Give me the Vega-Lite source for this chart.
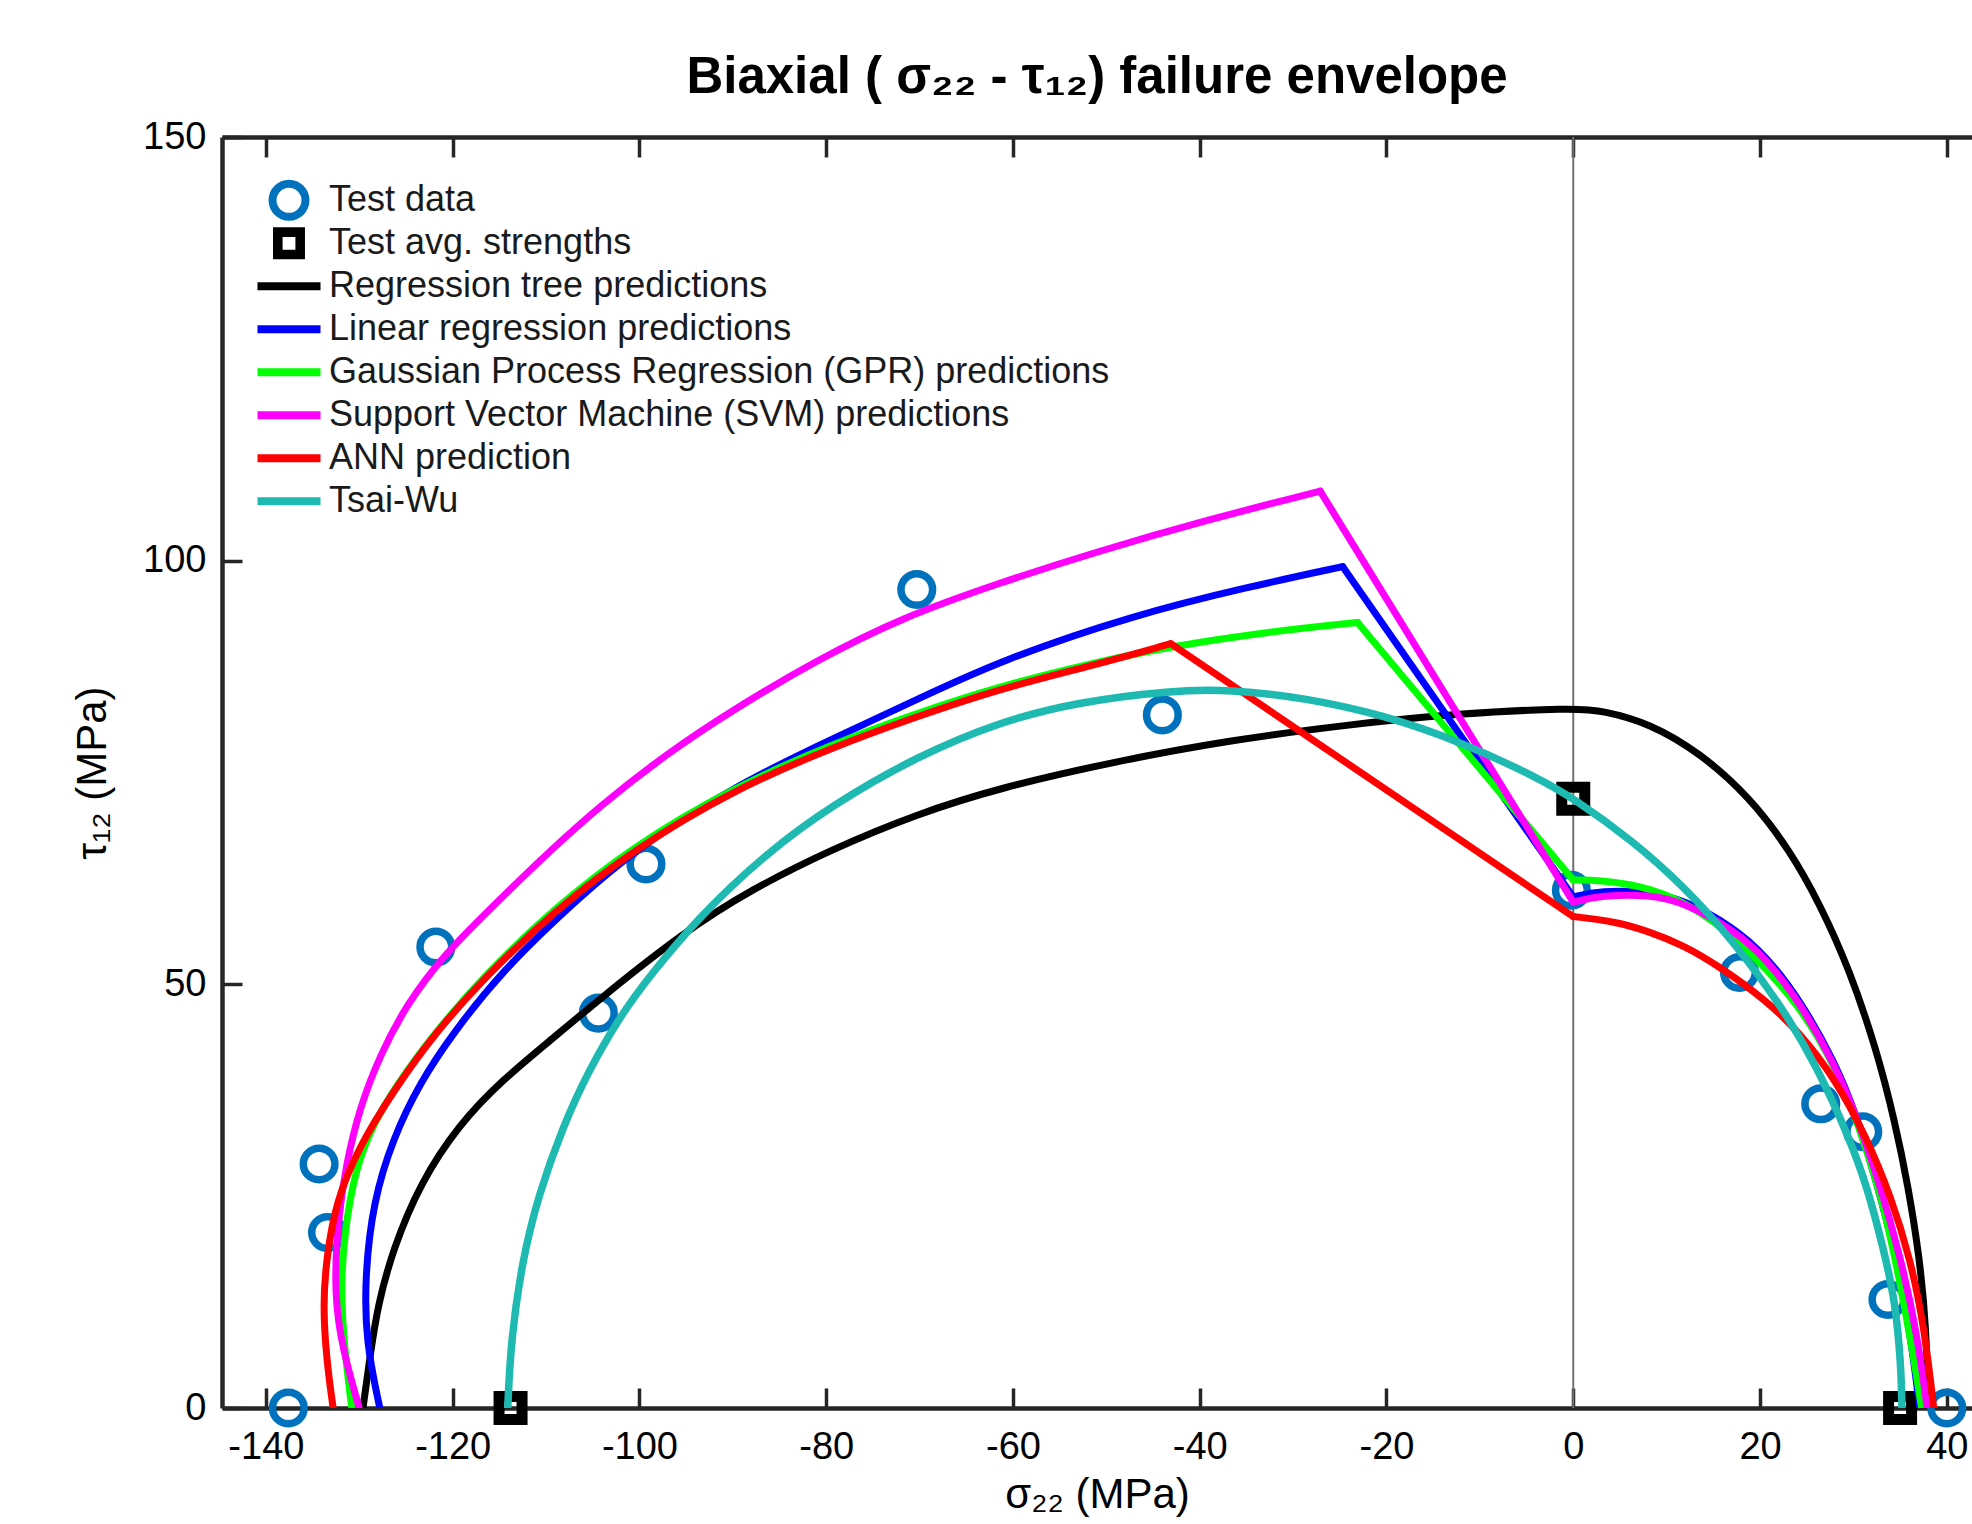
{
  "$schema": "https://vega.github.io/schema/vega-lite/v6.json",
  "width": 1750,
  "height": 1271,
  "autosize": {"type": "none"},
  "padding": {"left": 222, "top": 137, "right": 0, "bottom": 116},
  "background": "white",
  "config": {"view": {"stroke": null}, "font": "Liberation Sans"},
  "title": {
    "text": "Biaxial ( σ₂₂ - τ₁₂) failure envelope",
    "fontSize": 51, "fontWeight": "bold", "font": "Liberation Sans", "color": "#000000",
    "anchor": "middle", "baseline": "alphabetic", "offset": -26
  },
  "datasets": {
    "p": [
      {"s": "Test data", "x": -137.6, "y": 0},
      {"s": "Test data", "x": -134.3, "y": 28.8},
      {"s": "Test data", "x": -133.4, "y": 20.7},
      {"s": "Test data", "x": -121.8, "y": 54.4},
      {"s": "Test data", "x": -104.4, "y": 46.6},
      {"s": "Test data", "x": -99.3, "y": 64.2},
      {"s": "Test data", "x": -70.3, "y": 96.6},
      {"s": "Test data", "x": -44.0, "y": 81.8},
      {"s": "Test data", "x": -0.2, "y": 61.1},
      {"s": "Test data", "x": 17.8, "y": 51.4},
      {"s": "Test data", "x": 26.5, "y": 35.9},
      {"s": "Test data", "x": 31.0, "y": 32.6},
      {"s": "Test data", "x": 33.7, "y": 12.8},
      {"s": "Test data", "x": 40.0, "y": 0},
      {"s": "Test avg. strengths", "x": -113.8, "y": 0},
      {"s": "Test avg. strengths", "x": 0, "y": 71.9},
      {"s": "Test avg. strengths", "x": 35.0, "y": 0}
    ],
    "c": [
      {"s": "Regression tree predictions", "g": "a", "i": 1, "x": -129.6, "y": 0},
      {"s": "Regression tree predictions", "g": "a", "i": 2, "x": -128.8, "y": 6.5},
      {"s": "Regression tree predictions", "g": "a", "i": 3, "x": -128.0, "y": 12.2},
      {"s": "Regression tree predictions", "g": "a", "i": 4, "x": -126.4, "y": 18.7},
      {"s": "Regression tree predictions", "g": "a", "i": 5, "x": -123.5, "y": 26.5},
      {"s": "Regression tree predictions", "g": "a", "i": 6, "x": -119.3, "y": 33.5},
      {"s": "Regression tree predictions", "g": "a", "i": 7, "x": -114.6, "y": 38.8},
      {"s": "Regression tree predictions", "g": "a", "i": 8, "x": -109.3, "y": 43.6},
      {"s": "Regression tree predictions", "g": "a", "i": 9, "x": -103.9, "y": 48.6},
      {"s": "Regression tree predictions", "g": "a", "i": 10, "x": -95.3, "y": 56.1},
      {"s": "Regression tree predictions", "g": "a", "i": 11, "x": -88.2, "y": 61.1},
      {"s": "Regression tree predictions", "g": "a", "i": 12, "x": -79.3, "y": 66.0},
      {"s": "Regression tree predictions", "g": "a", "i": 13, "x": -70.3, "y": 70.1},
      {"s": "Regression tree predictions", "g": "a", "i": 14, "x": -61.4, "y": 73.2},
      {"s": "Regression tree predictions", "g": "a", "i": 15, "x": -49.1, "y": 76.3},
      {"s": "Regression tree predictions", "g": "a", "i": 16, "x": -36.8, "y": 78.8},
      {"s": "Regression tree predictions", "g": "a", "i": 17, "x": -24.5, "y": 80.6},
      {"s": "Regression tree predictions", "g": "a", "i": 18, "x": -12.2, "y": 82.0},
      {"s": "Regression tree predictions", "g": "a", "i": 19, "x": 0, "y": 82.6},
      {"s": "Regression tree predictions", "g": "a", "i": 20, "x": 3.2, "y": 82.3},
      {"s": "Regression tree predictions", "g": "a", "i": 21, "x": 8.2, "y": 80.8},
      {"s": "Regression tree predictions", "g": "a", "i": 22, "x": 13.6, "y": 77.3},
      {"s": "Regression tree predictions", "g": "a", "i": 23, "x": 18.9, "y": 72.1},
      {"s": "Regression tree predictions", "g": "a", "i": 24, "x": 23.2, "y": 65.8},
      {"s": "Regression tree predictions", "g": "a", "i": 25, "x": 26.4, "y": 59.5},
      {"s": "Regression tree predictions", "g": "a", "i": 26, "x": 29.6, "y": 51.7},
      {"s": "Regression tree predictions", "g": "a", "i": 27, "x": 32.5, "y": 42.2},
      {"s": "Regression tree predictions", "g": "a", "i": 28, "x": 34.4, "y": 34.0},
      {"s": "Regression tree predictions", "g": "a", "i": 29, "x": 35.9, "y": 26.0},
      {"s": "Regression tree predictions", "g": "a", "i": 30, "x": 37.1, "y": 17.6},
      {"s": "Regression tree predictions", "g": "a", "i": 31, "x": 37.8, "y": 9.5},
      {"s": "Regression tree predictions", "g": "a", "i": 32, "x": 38.0, "y": 0},

      {"s": "Linear regression predictions", "g": "a", "i": 1, "x": -127.8, "y": 0},
      {"s": "Linear regression predictions", "g": "a", "i": 2, "x": -129.3, "y": 7.8},
      {"s": "Linear regression predictions", "g": "a", "i": 3, "x": -129.4, "y": 15.6},
      {"s": "Linear regression predictions", "g": "a", "i": 4, "x": -128.5, "y": 24.4},
      {"s": "Linear regression predictions", "g": "a", "i": 5, "x": -126.4, "y": 31.8},
      {"s": "Linear regression predictions", "g": "a", "i": 6, "x": -123.5, "y": 38.4},
      {"s": "Linear regression predictions", "g": "a", "i": 7, "x": -120.0, "y": 44.2},
      {"s": "Linear regression predictions", "g": "a", "i": 8, "x": -114.6, "y": 51.7},
      {"s": "Linear regression predictions", "g": "a", "i": 9, "x": -107.8, "y": 58.9},
      {"s": "Linear regression predictions", "g": "a", "i": 10, "x": -100.7, "y": 65.8},
      {"s": "Linear regression predictions", "g": "a", "i": 11, "x": -90.0, "y": 73.3},
      {"s": "Linear regression predictions", "g": "a", "i": 12, "x": -79.3, "y": 79.0},
      {"s": "Linear regression predictions", "g": "a", "i": 13, "x": -70.3, "y": 83.6},
      {"s": "Linear regression predictions", "g": "a", "i": 14, "x": -61.4, "y": 88.2},
      {"s": "Linear regression predictions", "g": "a", "i": 15, "x": -47.0, "y": 93.6},
      {"s": "Linear regression predictions", "g": "a", "i": 16, "x": -34.8, "y": 96.9},
      {"s": "Linear regression predictions", "g": "a", "i": 17, "x": -24.7, "y": 99.3},
      {"s": "Linear regression predictions", "g": "b", "i": 1, "x": -24.7, "y": 99.3},
      {"s": "Linear regression predictions", "g": "b", "i": 2, "x": 0, "y": 60.3},
      {"s": "Linear regression predictions", "g": "c", "i": 1, "x": 0, "y": 60.3},
      {"s": "Linear regression predictions", "g": "c", "i": 2, "x": 2.9, "y": 61.1},
      {"s": "Linear regression predictions", "g": "c", "i": 3, "x": 8.2, "y": 60.9},
      {"s": "Linear regression predictions", "g": "c", "i": 4, "x": 11.8, "y": 60.0},
      {"s": "Linear regression predictions", "g": "c", "i": 5, "x": 17.1, "y": 56.8},
      {"s": "Linear regression predictions", "g": "c", "i": 6, "x": 20.7, "y": 53.3},
      {"s": "Linear regression predictions", "g": "c", "i": 7, "x": 24.3, "y": 48.1},
      {"s": "Linear regression predictions", "g": "c", "i": 8, "x": 27.9, "y": 41.1},
      {"s": "Linear regression predictions", "g": "c", "i": 9, "x": 30.4, "y": 34.4},
      {"s": "Linear regression predictions", "g": "c", "i": 10, "x": 32.5, "y": 26.5},
      {"s": "Linear regression predictions", "g": "c", "i": 11, "x": 34.6, "y": 18.0},
      {"s": "Linear regression predictions", "g": "c", "i": 12, "x": 36.2, "y": 8.0},
      {"s": "Linear regression predictions", "g": "c", "i": 13, "x": 37.1, "y": 0},

      {"s": "Gaussian Process Regression (GPR) predictions", "g": "a", "i": 1, "x": -130.8, "y": 0},
      {"s": "Gaussian Process Regression (GPR) predictions", "g": "a", "i": 2, "x": -131.6, "y": 7.0},
      {"s": "Gaussian Process Regression (GPR) predictions", "g": "a", "i": 3, "x": -132.0, "y": 14.0},
      {"s": "Gaussian Process Regression (GPR) predictions", "g": "a", "i": 4, "x": -131.6, "y": 20.5},
      {"s": "Gaussian Process Regression (GPR) predictions", "g": "a", "i": 5, "x": -130.5, "y": 28.0},
      {"s": "Gaussian Process Regression (GPR) predictions", "g": "a", "i": 6, "x": -128.5, "y": 33.5},
      {"s": "Gaussian Process Regression (GPR) predictions", "g": "a", "i": 7, "x": -126.2, "y": 37.8},
      {"s": "Gaussian Process Regression (GPR) predictions", "g": "a", "i": 8, "x": -122.0, "y": 44.2},
      {"s": "Gaussian Process Regression (GPR) predictions", "g": "a", "i": 9, "x": -116.4, "y": 51.3},
      {"s": "Gaussian Process Regression (GPR) predictions", "g": "a", "i": 10, "x": -109.3, "y": 58.8},
      {"s": "Gaussian Process Regression (GPR) predictions", "g": "a", "i": 11, "x": -100.7, "y": 66.3},
      {"s": "Gaussian Process Regression (GPR) predictions", "g": "a", "i": 12, "x": -90.0, "y": 73.2},
      {"s": "Gaussian Process Regression (GPR) predictions", "g": "a", "i": 13, "x": -79.3, "y": 78.4},
      {"s": "Gaussian Process Regression (GPR) predictions", "g": "a", "i": 14, "x": -70.3, "y": 82.0},
      {"s": "Gaussian Process Regression (GPR) predictions", "g": "a", "i": 15, "x": -61.4, "y": 85.2},
      {"s": "Gaussian Process Regression (GPR) predictions", "g": "a", "i": 16, "x": -51.2, "y": 88.0},
      {"s": "Gaussian Process Regression (GPR) predictions", "g": "a", "i": 17, "x": -43.0, "y": 89.9},
      {"s": "Gaussian Process Regression (GPR) predictions", "g": "a", "i": 18, "x": -32.7, "y": 91.6},
      {"s": "Gaussian Process Regression (GPR) predictions", "g": "a", "i": 19, "x": -23.1, "y": 92.7},
      {"s": "Gaussian Process Regression (GPR) predictions", "g": "b", "i": 1, "x": -23.1, "y": 92.7},
      {"s": "Gaussian Process Regression (GPR) predictions", "g": "b", "i": 2, "x": 0, "y": 62.3},
      {"s": "Gaussian Process Regression (GPR) predictions", "g": "c", "i": 1, "x": 0, "y": 62.3},
      {"s": "Gaussian Process Regression (GPR) predictions", "g": "c", "i": 2, "x": 2.9, "y": 62.3},
      {"s": "Gaussian Process Regression (GPR) predictions", "g": "c", "i": 3, "x": 8.2, "y": 61.5},
      {"s": "Gaussian Process Regression (GPR) predictions", "g": "c", "i": 4, "x": 13.6, "y": 58.8},
      {"s": "Gaussian Process Regression (GPR) predictions", "g": "c", "i": 5, "x": 18.9, "y": 54.0},
      {"s": "Gaussian Process Regression (GPR) predictions", "g": "c", "i": 6, "x": 24.3, "y": 47.4},
      {"s": "Gaussian Process Regression (GPR) predictions", "g": "c", "i": 7, "x": 27.9, "y": 40.7},
      {"s": "Gaussian Process Regression (GPR) predictions", "g": "c", "i": 8, "x": 30.7, "y": 33.0},
      {"s": "Gaussian Process Regression (GPR) predictions", "g": "c", "i": 9, "x": 33.0, "y": 25.0},
      {"s": "Gaussian Process Regression (GPR) predictions", "g": "c", "i": 10, "x": 34.8, "y": 16.0},
      {"s": "Gaussian Process Regression (GPR) predictions", "g": "c", "i": 11, "x": 36.3, "y": 7.0},
      {"s": "Gaussian Process Regression (GPR) predictions", "g": "c", "i": 12, "x": 37.3, "y": 0},

      {"s": "Support Vector Machine (SVM) predictions", "g": "a", "i": 1, "x": -130.0, "y": 0},
      {"s": "Support Vector Machine (SVM) predictions", "g": "a", "i": 2, "x": -131.8, "y": 6.9},
      {"s": "Support Vector Machine (SVM) predictions", "g": "a", "i": 3, "x": -132.7, "y": 13.4},
      {"s": "Support Vector Machine (SVM) predictions", "g": "a", "i": 4, "x": -132.3, "y": 22.2},
      {"s": "Support Vector Machine (SVM) predictions", "g": "a", "i": 5, "x": -131.4, "y": 28.8},
      {"s": "Support Vector Machine (SVM) predictions", "g": "a", "i": 6, "x": -130.0, "y": 35.3},
      {"s": "Support Vector Machine (SVM) predictions", "g": "a", "i": 7, "x": -127.8, "y": 41.6},
      {"s": "Support Vector Machine (SVM) predictions", "g": "a", "i": 8, "x": -125.0, "y": 47.5},
      {"s": "Support Vector Machine (SVM) predictions", "g": "a", "i": 9, "x": -120.9, "y": 53.6},
      {"s": "Support Vector Machine (SVM) predictions", "g": "a", "i": 10, "x": -114.6, "y": 60.4},
      {"s": "Support Vector Machine (SVM) predictions", "g": "a", "i": 11, "x": -110.0, "y": 65.3},
      {"s": "Support Vector Machine (SVM) predictions", "g": "a", "i": 12, "x": -104.3, "y": 71.0},
      {"s": "Support Vector Machine (SVM) predictions", "g": "a", "i": 13, "x": -97.1, "y": 77.2},
      {"s": "Support Vector Machine (SVM) predictions", "g": "a", "i": 14, "x": -90.0, "y": 82.4},
      {"s": "Support Vector Machine (SVM) predictions", "g": "a", "i": 15, "x": -81.1, "y": 88.2},
      {"s": "Support Vector Machine (SVM) predictions", "g": "a", "i": 16, "x": -72.1, "y": 93.2},
      {"s": "Support Vector Machine (SVM) predictions", "g": "a", "i": 17, "x": -61.4, "y": 97.4},
      {"s": "Support Vector Machine (SVM) predictions", "g": "a", "i": 18, "x": -51.2, "y": 101.0},
      {"s": "Support Vector Machine (SVM) predictions", "g": "a", "i": 19, "x": -38.9, "y": 104.9},
      {"s": "Support Vector Machine (SVM) predictions", "g": "a", "i": 20, "x": -27.1, "y": 108.2},
      {"s": "Support Vector Machine (SVM) predictions", "g": "b", "i": 1, "x": -27.1, "y": 108.2},
      {"s": "Support Vector Machine (SVM) predictions", "g": "b", "i": 2, "x": 0, "y": 59.7},
      {"s": "Support Vector Machine (SVM) predictions", "g": "c", "i": 1, "x": 0, "y": 59.7},
      {"s": "Support Vector Machine (SVM) predictions", "g": "c", "i": 2, "x": 3.0, "y": 60.5},
      {"s": "Support Vector Machine (SVM) predictions", "g": "c", "i": 3, "x": 8.2, "y": 60.6},
      {"s": "Support Vector Machine (SVM) predictions", "g": "c", "i": 4, "x": 12.0, "y": 59.6},
      {"s": "Support Vector Machine (SVM) predictions", "g": "c", "i": 5, "x": 17.1, "y": 56.5},
      {"s": "Support Vector Machine (SVM) predictions", "g": "c", "i": 6, "x": 20.7, "y": 53.0},
      {"s": "Support Vector Machine (SVM) predictions", "g": "c", "i": 7, "x": 24.3, "y": 47.8},
      {"s": "Support Vector Machine (SVM) predictions", "g": "c", "i": 8, "x": 27.9, "y": 40.8},
      {"s": "Support Vector Machine (SVM) predictions", "g": "c", "i": 9, "x": 30.5, "y": 34.0},
      {"s": "Support Vector Machine (SVM) predictions", "g": "c", "i": 10, "x": 32.8, "y": 26.5},
      {"s": "Support Vector Machine (SVM) predictions", "g": "c", "i": 11, "x": 35.0, "y": 18.0},
      {"s": "Support Vector Machine (SVM) predictions", "g": "c", "i": 12, "x": 36.8, "y": 9.0},
      {"s": "Support Vector Machine (SVM) predictions", "g": "c", "i": 13, "x": 37.9, "y": 0},

      {"s": "ANN prediction", "g": "a", "i": 1, "x": -132.8, "y": 0},
      {"s": "ANN prediction", "g": "a", "i": 2, "x": -133.5, "y": 5.6},
      {"s": "ANN prediction", "g": "a", "i": 3, "x": -133.9, "y": 12.2},
      {"s": "ANN prediction", "g": "a", "i": 4, "x": -133.5, "y": 17.8},
      {"s": "ANN prediction", "g": "a", "i": 5, "x": -132.5, "y": 24.4},
      {"s": "ANN prediction", "g": "a", "i": 6, "x": -130.0, "y": 30.9},
      {"s": "ANN prediction", "g": "a", "i": 7, "x": -126.4, "y": 37.3},
      {"s": "ANN prediction", "g": "a", "i": 8, "x": -122.1, "y": 44.0},
      {"s": "ANN prediction", "g": "a", "i": 9, "x": -116.4, "y": 51.0},
      {"s": "ANN prediction", "g": "a", "i": 10, "x": -109.3, "y": 58.5},
      {"s": "ANN prediction", "g": "a", "i": 11, "x": -100.5, "y": 66.0},
      {"s": "ANN prediction", "g": "a", "i": 12, "x": -90.0, "y": 72.9},
      {"s": "ANN prediction", "g": "a", "i": 13, "x": -79.3, "y": 78.0},
      {"s": "ANN prediction", "g": "a", "i": 14, "x": -70.3, "y": 81.6},
      {"s": "ANN prediction", "g": "a", "i": 15, "x": -61.4, "y": 84.9},
      {"s": "ANN prediction", "g": "a", "i": 16, "x": -51.2, "y": 87.7},
      {"s": "ANN prediction", "g": "a", "i": 17, "x": -43.1, "y": 90.2},
      {"s": "ANN prediction", "g": "b", "i": 1, "x": -43.1, "y": 90.2},
      {"s": "ANN prediction", "g": "b", "i": 2, "x": 0, "y": 58.0},
      {"s": "ANN prediction", "g": "c", "i": 1, "x": 0, "y": 58.0},
      {"s": "ANN prediction", "g": "c", "i": 2, "x": 4.6, "y": 57.4},
      {"s": "ANN prediction", "g": "c", "i": 3, "x": 8.2, "y": 56.2},
      {"s": "ANN prediction", "g": "c", "i": 4, "x": 11.8, "y": 54.6},
      {"s": "ANN prediction", "g": "c", "i": 5, "x": 15.4, "y": 52.3},
      {"s": "ANN prediction", "g": "c", "i": 6, "x": 20.7, "y": 48.1},
      {"s": "ANN prediction", "g": "c", "i": 7, "x": 24.3, "y": 44.2},
      {"s": "ANN prediction", "g": "c", "i": 8, "x": 27.9, "y": 39.1},
      {"s": "ANN prediction", "g": "c", "i": 9, "x": 31.4, "y": 32.0},
      {"s": "ANN prediction", "g": "c", "i": 10, "x": 34.0, "y": 25.0},
      {"s": "ANN prediction", "g": "c", "i": 11, "x": 36.1, "y": 17.6},
      {"s": "ANN prediction", "g": "c", "i": 12, "x": 37.6, "y": 9.5},
      {"s": "ANN prediction", "g": "c", "i": 13, "x": 38.6, "y": 0},

      {"s": "Tsai-Wu", "g": "a", "i": 1, "x": -114.1, "y": 0},
      {"s": "Tsai-Wu", "g": "a", "i": 2, "x": -113.8, "y": 7.5},
      {"s": "Tsai-Wu", "g": "a", "i": 3, "x": -112.6, "y": 17.2},
      {"s": "Tsai-Wu", "g": "a", "i": 4, "x": -110.8, "y": 25.2},
      {"s": "Tsai-Wu", "g": "a", "i": 5, "x": -108.2, "y": 33.2},
      {"s": "Tsai-Wu", "g": "a", "i": 6, "x": -105.5, "y": 39.7},
      {"s": "Tsai-Wu", "g": "a", "i": 7, "x": -102.1, "y": 46.2},
      {"s": "Tsai-Wu", "g": "a", "i": 8, "x": -98.9, "y": 51.0},
      {"s": "Tsai-Wu", "g": "a", "i": 9, "x": -93.6, "y": 58.0},
      {"s": "Tsai-Wu", "g": "a", "i": 10, "x": -86.4, "y": 65.5},
      {"s": "Tsai-Wu", "g": "a", "i": 11, "x": -79.3, "y": 71.2},
      {"s": "Tsai-Wu", "g": "a", "i": 12, "x": -70.3, "y": 76.9},
      {"s": "Tsai-Wu", "g": "a", "i": 13, "x": -61.4, "y": 81.0},
      {"s": "Tsai-Wu", "g": "a", "i": 14, "x": -53.2, "y": 83.3},
      {"s": "Tsai-Wu", "g": "a", "i": 15, "x": -43.0, "y": 84.7},
      {"s": "Tsai-Wu", "g": "a", "i": 16, "x": -36.8, "y": 84.8},
      {"s": "Tsai-Wu", "g": "a", "i": 17, "x": -28.6, "y": 83.8},
      {"s": "Tsai-Wu", "g": "a", "i": 18, "x": -20.4, "y": 81.8},
      {"s": "Tsai-Wu", "g": "a", "i": 19, "x": -12.2, "y": 78.7},
      {"s": "Tsai-Wu", "g": "a", "i": 20, "x": -4.0, "y": 74.5},
      {"s": "Tsai-Wu", "g": "a", "i": 21, "x": 0, "y": 72.0},
      {"s": "Tsai-Wu", "g": "a", "i": 22, "x": 6.4, "y": 66.9},
      {"s": "Tsai-Wu", "g": "a", "i": 23, "x": 11.8, "y": 61.6},
      {"s": "Tsai-Wu", "g": "a", "i": 24, "x": 17.1, "y": 55.2},
      {"s": "Tsai-Wu", "g": "a", "i": 25, "x": 22.5, "y": 47.1},
      {"s": "Tsai-Wu", "g": "a", "i": 26, "x": 26.1, "y": 40.3},
      {"s": "Tsai-Wu", "g": "a", "i": 27, "x": 29.6, "y": 31.8},
      {"s": "Tsai-Wu", "g": "a", "i": 28, "x": 31.5, "y": 26.0},
      {"s": "Tsai-Wu", "g": "a", "i": 29, "x": 33.2, "y": 18.9},
      {"s": "Tsai-Wu", "g": "a", "i": 30, "x": 34.5, "y": 12.5},
      {"s": "Tsai-Wu", "g": "a", "i": 31, "x": 35.1, "y": 5.0},
      {"s": "Tsai-Wu", "g": "a", "i": 32, "x": 35.2, "y": 0}
    ]
  },
  "layer": [
    {
      "data": {"values": [{"x": 0}]},
      "mark": {"type": "rule", "color": "#707070", "strokeWidth": 2},
      "encoding": {
        "x": {
          "field": "x", "type": "quantitative",
          "scale": {"domain": [-144.7, 42.7], "nice": false, "zero": false},
          "axis": {
            "orient": "top", "values": [-140, -120, -100, -80, -60, -40, -20, 0, 20, 40],
            "labels": false, "title": null, "grid": false,
            "tickSize": -20, "tickWidth": 3.5, "tickColor": "#262626",
            "domainWidth": 4.5, "domainColor": "#262626"
          }
        }
      }
    },
    {
      "encoding": {
        "x": {
          "field": "x", "type": "quantitative",
          "scale": {"domain": [-144.7, 42.7], "nice": false, "zero": false},
          "axis": {
            "orient": "bottom", "values": [-140, -120, -100, -80, -60, -40, -20, 0, 20, 40],
            "labelExpr": "'' + datum.value",
            "grid": false, "tickSize": -20, "tickWidth": 3.5, "tickColor": "#262626",
            "domainWidth": 4.5, "domainColor": "#262626",
            "labelFontSize": 38, "labelFont": "Liberation Sans", "labelColor": "#000000",
            "labelPadding": 40, "labelFlush": false, "labelOverlap": false,
            "title": "σ₂₂ (MPa)", "titleFontSize": 42, "titleFont": "Liberation Sans",
            "titleFontWeight": "normal", "titleColor": "#000000", "titlePadding": 8
          }
        },
        "y": {
          "field": "y", "type": "quantitative",
          "scale": {"domain": [0, 150], "nice": false},
          "axis": {
            "values": [0, 50, 100, 150], "grid": false,
            "labelExpr": "'' + datum.value",
            "tickSize": -20, "tickWidth": 3.5, "tickColor": "#262626",
            "domainWidth": 4.5, "domainColor": "#262626",
            "labelFontSize": 38, "labelFont": "Liberation Sans", "labelColor": "#000000",
            "labelPadding": 36, "labelFlush": false, "labelOverlap": false,
            "title": "τ₁₂ (MPa)", "titleFontSize": 42, "titleFont": "Liberation Sans",
            "titleFontWeight": "normal", "titleColor": "#000000", "titlePadding": 28
          }
        },
        "color": {
          "field": "s", "type": "nominal",
          "scale": {
            "domain": ["Test data", "Test avg. strengths", "Regression tree predictions", "Linear regression predictions", "Gaussian Process Regression (GPR) predictions", "Support Vector Machine (SVM) predictions", "ANN prediction", "Tsai-Wu"],
            "range": ["#0072BD", "#000000", "#000000", "#0000FF", "#00FF00", "#FF00FF", "#FF0000", "#1EB9B1"]
          },
          "legend": {
            "orient": "none", "legendX": 29, "legendY": 41.8, "title": null, "padding": 0,
            "symbolType": "M-3,0H3", "symbolSize": 441, "symbolStrokeWidth": 8,
            "symbolOffset": 20, "labelOffset": 22, "labelFontSize": 36,
            "labelFont": "Liberation Sans", "labelColor": "#1a1a1a", "labelLimit": 1200,
            "clipHeight": 43, "rowPadding": 0,
            "encode": {
              "symbols": {
                "update": {
                  "shape": {"signal": "datum.value === 'Test data' ? 'M1.57,0A1.57,1.57,0,1,1,-1.57,0A1.57,1.57,0,1,1,1.57,0Z' : datum.value === 'Test avg. strengths' ? 'M-1.14,-1.14H1.14V1.14H-1.14ZM-0.99,-0.99V0.99H0.99V-0.99Z' : 'M-3,0H3'"},
                  "fill": {"signal": "datum.value === 'Test avg. strengths' ? '#000000' : 'transparent'"}
                }
              }
            }
          }
        }
      },
      "layer": [
        {
          "data": {"name": "p"},
          "transform": [{"filter": "datum.s === 'Test data'"}],
          "mark": {"type": "point", "shape": "circle", "filled": false, "size": 1000, "strokeWidth": 7.5, "opacity": 1}
        },
        {
          "data": {"name": "p"},
          "transform": [{"filter": "datum.s === 'Test avg. strengths'"}],
          "mark": {"type": "point", "shape": "square", "filled": false, "size": 529, "strokeWidth": 11, "opacity": 1}
        },
        {
          "data": {"name": "c"},
          "transform": [{"filter": "datum.s === 'Regression tree predictions'"}],
          "mark": {"type": "line", "strokeWidth": 7, "clip": true, "interpolate": "basis", "strokeCap": "round"},
          "encoding": {"detail": {"field": "g"}, "order": {"field": "i", "type": "quantitative"}}
        },
        {
          "data": {"name": "c"},
          "transform": [{"filter": "datum.s === 'Linear regression predictions'"}],
          "mark": {"type": "line", "strokeWidth": 7, "clip": true, "interpolate": "basis", "strokeCap": "round"},
          "encoding": {"detail": {"field": "g"}, "order": {"field": "i", "type": "quantitative"}}
        },
        {
          "data": {"name": "c"},
          "transform": [{"filter": "datum.s === 'Gaussian Process Regression (GPR) predictions'"}],
          "mark": {"type": "line", "strokeWidth": 7, "clip": true, "interpolate": "basis", "strokeCap": "round"},
          "encoding": {"detail": {"field": "g"}, "order": {"field": "i", "type": "quantitative"}}
        },
        {
          "data": {"name": "c"},
          "transform": [{"filter": "datum.s === 'Support Vector Machine (SVM) predictions'"}],
          "mark": {"type": "line", "strokeWidth": 7, "clip": true, "interpolate": "basis", "strokeCap": "round"},
          "encoding": {"detail": {"field": "g"}, "order": {"field": "i", "type": "quantitative"}}
        },
        {
          "data": {"name": "c"},
          "transform": [{"filter": "datum.s === 'ANN prediction'"}],
          "mark": {"type": "line", "strokeWidth": 7, "clip": true, "interpolate": "basis", "strokeCap": "round"},
          "encoding": {"detail": {"field": "g"}, "order": {"field": "i", "type": "quantitative"}}
        },
        {
          "data": {"name": "c"},
          "transform": [{"filter": "datum.s === 'Tsai-Wu'"}],
          "mark": {"type": "line", "strokeWidth": 7.5, "clip": true, "interpolate": "basis", "strokeCap": "round"},
          "encoding": {"detail": {"field": "g"}, "order": {"field": "i", "type": "quantitative"}}
        }
      ]
    }
  ],
  "resolve": {"axis": {"x": "independent"}}
}
